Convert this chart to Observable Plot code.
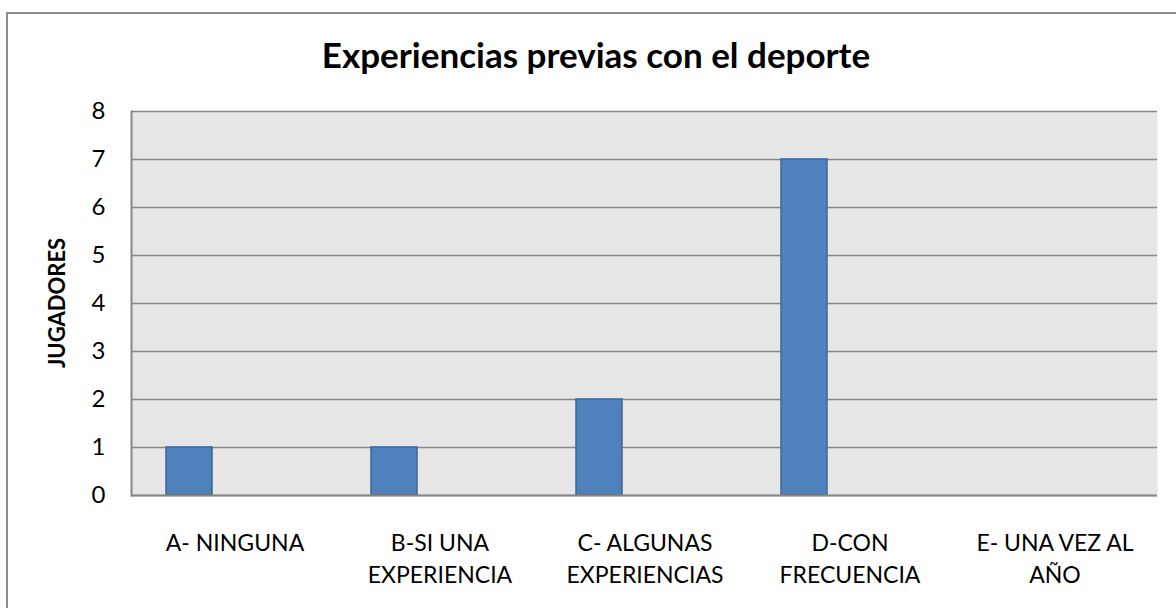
<!DOCTYPE html>
<html>
<head>
<meta charset="utf-8">
<script src="https://cdn.jsdelivr.net/npm/d3@7"></script>
<script src="https://cdn.jsdelivr.net/npm/@observablehq/plot@0.6"></script>
<style>
  html, body { margin: 0; padding: 0; background: #fff; overflow: hidden; }
  #wrap { position: relative; width: 1176px; height: 608px; overflow: hidden; font-family: Lato, "Open Sans", sans-serif; }
  #border { position: absolute; left: 6px; top: 12px; width: 1250px; height: 700px; border: 2px solid #8c8c8c; box-sizing: border-box; }
  #title { position: relative; height: 95px; padding-left: 16px; box-sizing: border-box; text-align: center; font-weight: bold; font-size: 35px; line-height: 35px; padding-top: 37px; color: #000; white-space: nowrap; }
  #ylabel { position: absolute; left: 56px; top: 303px; transform: translate(-50%, -50%) rotate(-90deg); font-weight: bold; font-size: 22px; white-space: nowrap; color: #000; }
  #chart { position: relative; }
</style>
</head>
<body>
<div id="wrap">
  <div id="border"></div>
  <div id="title">Experiencias previas con el deporte</div>
  <div id="chart"></div>
  <div id="ylabel">JUGADORES</div>
</div>
<script>
const categories = ["A- NINGUNA", "B-SI UNA EXPERIENCIA", "C- ALGUNAS EXPERIENCIAS", "D-CON FRECUENCIA", "E- UNA VEZ AL AÑO"];
const tickLabels = ["A- NINGUNA", "B-SI UNA\nEXPERIENCIA", "C- ALGUNAS\nEXPERIENCIAS", "D-CON\nFRECUENCIA", "E- UNA VEZ AL\nAÑO"];
const jugadores = [1, 1, 2, 7, 0];
const yTicks = [0, 1, 2, 3, 4, 5, 6, 7, 8];

const data = categories.map((c, i) => ({cat: c, value: jugadores[i]}));

const chart = Plot.plot({
  width: 1176,
  height: 513,
  marginTop: 16,
  marginBottom: 113,
  marginLeft: 131,
  marginRight: 19,
  style: {fontFamily: "Lato, 'Open Sans', sans-serif", fontSize: "23px", color: "#000", background: "transparent"},
  x: {type: "band", domain: categories, padding: 0},
  y: {domain: [0, 8]},
  marks: [
    Plot.frame({fill: "#E6E6E6", stroke: null}),
    Plot.gridY(yTicks, {stroke: "#878787", strokeOpacity: 1, strokeWidth: 1.5}),
    Plot.barY(data, {x: "cat", y: "value", fill: "#4F81BD", stroke: "#3C6696", strokeWidth: 1.5, insetLeft: 34, insetRight: 125}),
    Plot.ruleY([0], {stroke: "#878787", strokeWidth: 2}),
    Plot.frame({anchor: "left", stroke: "#878787", strokeWidth: 2}),
    Plot.axisY(yTicks, {tickSize: 0, tickPadding: 26, label: null, fontSize: 24}),
    Plot.axisX({tickSize: 0, tickPadding: 33, label: null, fontSize: 23, lineHeight: 1.38,
      tickFormat: (d) => tickLabels[categories.indexOf(d)]})
  ]
});
document.getElementById("chart").appendChild(chart);
</script>
</body>
</html>
